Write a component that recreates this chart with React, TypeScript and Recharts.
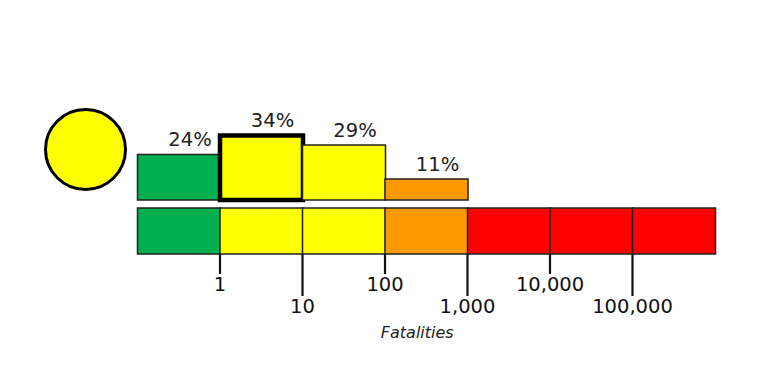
import React from 'react'
import { BarChart, Bar, XAxis, YAxis, Cell, LabelList } from 'recharts'

const FONT = '"DejaVu Sans", sans-serif'

// fatality bins and estimated probability per bin
const probBins = ['0', '1-10', '10-100', '100-1,000']
const probValues = [24, 34, 29, 11]
const probColors = ['#00b050', '#ffff00', '#ffff00', '#ff9900']

// alert scale bar
const scaleBins = ['0', '1', '10', '100', '1k', '10k', '100k']
const scaleColors = ['#00b050', '#ffff00', '#ffff00', '#ff9900', '#ff0000', '#ff0000', '#ff0000']
const tickValues = [1, 2, 3, 4, 5, 6]
const tickLabels = ['1', '10', '100', '1,000', '10,000', '100,000']

const alertColor = '#ffff00'
const highlighted = 1

const probData = probBins.map((name, i) => ({ name, value: probValues[i] }))
// mid point of each bin on the log-decade axis
const scaleData = scaleBins.map((name, i) => ({ name, value: 1, mid: i + 0.5 }))

function FatalityTick(props: any) {
  const { x, y, payload } = props
  const long = payload.value % 2 === 0
  const len = long ? 42 : 20
  return (
    <g>
      <line x1={x} x2={x} y1={y} y2={y + len} stroke="#111" strokeWidth={2.2} />
      <text
        x={x}
        y={y + len + 17}
        textAnchor="middle"
        fontSize={19.5}
        fontFamily={FONT}
        fill="#111"
      >
        {tickLabels[payload.value - 1]}
      </text>
    </g>
  )
}

export default function App() {
  return (
    <div style={{ position: 'absolute', left: 0, top: 0, width: 761, height: 369, background: '#fff' }}>
      {/* alert level circle */}
      <div
        style={{
          position: 'absolute', left: 44, top: 108, width: 83, height: 83,
          boxSizing: 'border-box', borderRadius: '50%', border: '3px solid #000',
          background: alertColor,
        }}
      />

      {/* probability histogram */}
      <div style={{ position: 'absolute', left: 0, top: 0 }}>
        <BarChart
          width={761}
          height={369}
          data={probData}
          margin={{ top: 124, right: 293.5, bottom: 169, left: 137.5 }}
          barCategoryGap={0}
        >
          <XAxis dataKey="name" hide height={0} />
          <YAxis hide domain={[0, 40]} />
          <Bar dataKey="value" isAnimationActive={false}>
            {probData.map((d, i) => (
              <Cell
                key={d.name}
                fill={probColors[i]}
                stroke={i === highlighted ? '#000' : '#222'}
                strokeWidth={i === highlighted ? 4.5 : 1.5}
              />
            ))}
            <LabelList
              dataKey="value"
              position="top"
              offset={8}
              dx={11}
              formatter={(v: any) => `${v}%`}
              style={{ fontSize: 19.5, fontFamily: FONT, fill: '#222' }}
            />
          </Bar>
        </BarChart>
      </div>

      {/* color scale with fatality ticks */}
      <div style={{ position: 'absolute', left: 0, top: 0 }}>
        <BarChart
          width={761}
          height={369}
          data={scaleData}
          margin={{ top: 208, right: 46, bottom: 55, left: 137.5 }}
          barCategoryGap={0}
        >
          <XAxis dataKey="name" hide height={0} />
          <XAxis
            xAxisId="t"
            dataKey="mid"
            type="number"
            domain={[0, 7]}
            allowDataOverflow
            ticks={tickValues}
            height={60}
            axisLine={false}
            tickLine={false}
            tickSize={0}
            tickMargin={0}
            tick={<FatalityTick />}
            interval={0}
            label={{
              value: 'Fatalities', position: 'bottom', offset: 13, dx: -9,
              style: { fontSize: 16, fontStyle: 'italic', fontFamily: FONT, fill: '#222' },
            }}
          />
          <YAxis hide domain={[0, 1]} />
          <Bar dataKey="value" isAnimationActive={false}>
            {scaleData.map((d, i) => (
              <Cell key={d.name} fill={scaleColors[i]} stroke="#222" strokeWidth={1.5} />
            ))}
          </Bar>
        </BarChart>
      </div>
    </div>
  )
}
